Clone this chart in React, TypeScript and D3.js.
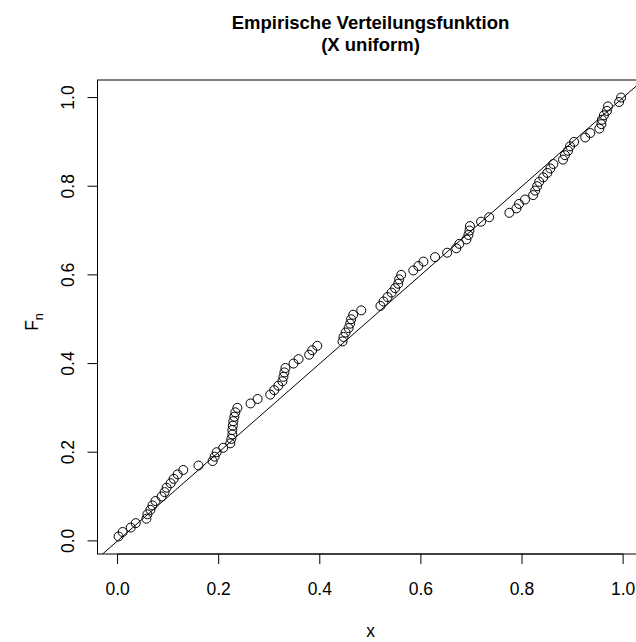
import React from "react";
import * as d3 from "d3";

const xValues: number[] = [
  0.002, 0.010, 0.026, 0.036, 0.057, 0.059, 0.065, 0.069, 0.075, 0.087,
  0.093, 0.097, 0.105, 0.111, 0.119, 0.130, 0.160, 0.188, 0.192, 0.196,
  0.209, 0.223, 0.225, 0.227, 0.227, 0.228, 0.229, 0.231, 0.233, 0.237,
  0.263, 0.277, 0.302, 0.310, 0.318, 0.326, 0.328, 0.330, 0.332, 0.348,
  0.358, 0.379, 0.385, 0.395, 0.445, 0.447, 0.451, 0.457, 0.460, 0.462,
  0.466, 0.482, 0.520, 0.526, 0.534, 0.542, 0.549, 0.555, 0.557, 0.561,
  0.585, 0.595, 0.605, 0.628, 0.652, 0.670, 0.676, 0.690, 0.694, 0.696,
  0.697, 0.719, 0.735, 0.775, 0.789, 0.794, 0.806, 0.822, 0.826, 0.830,
  0.834, 0.842, 0.850, 0.856, 0.862, 0.881, 0.885, 0.891, 0.895, 0.903,
  0.925, 0.935, 0.953, 0.957, 0.958, 0.962, 0.968, 0.970, 0.992, 0.996,
];
const xTicks: number[] = [0, 0.2, 0.4, 0.6, 0.8, 1.0];
const yTicks: number[] = [0, 0.2, 0.4, 0.6, 0.8, 1.0];
const titleLines: string[] = ["Empirische Verteilungsfunktion", "(X uniform)"];

const W = 636;
const H = 642;
const left = 97.5;
const right = 643.5;
const top = 80;
const bottom = 554;

export default function App() {
  const n = xValues.length;
  const yValues = xValues.map((_, i) => (i + 1) / n);
  const x = d3.scaleLinear().domain([-0.0397, 1.0403]).range([left, right]);
  const yExt = d3.extent(yValues) as [number, number];
  const yPad = (yExt[1] - yExt[0]) * 0.04;
  const y = d3.scaleLinear().domain([yExt[0] - yPad, yExt[1] + yPad]).range([bottom, top]);
  const font = "'Liberation Sans', Arial, Helvetica, sans-serif";
  const cx = (left + right) / 2;
  const cy = (top + bottom) / 2;
  const lineDom = [-0.1, 1.1];
  return (
    <svg width={W} height={H} style={{ position: "fixed", left: 0, top: 0, background: "#fff" }} fontFamily={font}>
      <rect x={0} y={0} width={W} height={H} fill="#fff" />
      <defs>
        <clipPath id="plotclip">
          <rect x={left} y={top} width={right - left} height={bottom - top} />
        </clipPath>
      </defs>
      {titleLines.map((t, i) => (
        <text key={i} x={cx} y={28.5 + i * 22} textAnchor="middle" fontWeight="bold" fontSize={18.5}>{t}</text>
      ))}
      <rect x={left} y={top} width={right - left} height={bottom - top} fill="none" stroke="#000" strokeWidth={1} />
      <line clipPath="url(#plotclip)" x1={x(lineDom[0])} y1={y(lineDom[0])} x2={x(lineDom[1])} y2={y(lineDom[1])} stroke="#000" strokeWidth={1} />
      {xValues.map((v, i) => (
        <circle key={i} cx={x(v)} cy={y(yValues[i])} r={4.5} fill="none" stroke="#000" strokeWidth={1} />
      ))}
      {xTicks.map((t) => (
        <g key={"x" + t}>
          <line x1={x(t)} x2={x(t)} y1={bottom} y2={bottom + 10} stroke="#000" />
          <text x={x(t)} y={595} textAnchor="middle" fontSize={17.5}>{t.toFixed(1)}</text>
        </g>
      ))}
      <line x1={x(0)} x2={x(1)} y1={bottom} y2={bottom} stroke="#000" />
      {yTicks.map((t) => (
        <g key={"y" + t}>
          <line x1={left} x2={left - 10} y1={y(t)} y2={y(t)} stroke="#000" />
          <text transform={`translate(${left - 24},${y(t)}) rotate(-90)`} textAnchor="middle" fontSize={17.5}>{t.toFixed(1)}</text>
        </g>
      ))}
      <line x1={left} x2={left} y1={y(0)} y2={y(1)} stroke="#000" />
      <text x={cx} y={637} textAnchor="middle" fontSize={17.5}>x</text>
      <text transform={`translate(38,${cy + 5}) rotate(-90)`} textAnchor="middle" fontSize={17.5}>
        F<tspan dy={5} fontSize={12.5}>n</tspan>
      </text>
    </svg>
  );
}
